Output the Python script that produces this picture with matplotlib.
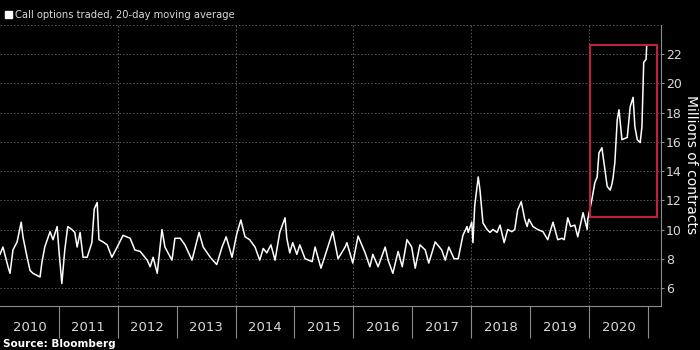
import matplotlib.pyplot as plt
from matplotlib.patches import Rectangle

# fractional year of each traced point, and the 20-day average (millions)
dates = [2010.00, 2010.05, 2010.14, 2010.17, 2010.22, 2010.29, 2010.36, 2010.39, 2010.46, 2010.51,
         2010.56, 2010.68, 2010.71, 2010.76, 2010.85, 2010.90, 2010.97, 2011.00, 2011.05, 2011.10,
         2011.15, 2011.22, 2011.27, 2011.31, 2011.36, 2011.41, 2011.48, 2011.56, 2011.60, 2011.65,
         2011.68, 2011.75, 2011.82, 2011.90, 2011.99, 2012.09, 2012.21, 2012.29, 2012.38, 2012.50,
         2012.55, 2012.60, 2012.67, 2012.75, 2012.80, 2012.92, 2012.97, 2013.06, 2013.14, 2013.26,
         2013.38, 2013.45, 2013.57, 2013.68, 2013.77, 2013.84, 2013.94, 2014.02, 2014.09, 2014.16,
         2014.24, 2014.33, 2014.41, 2014.47, 2014.53, 2014.60, 2014.67, 2014.75, 2014.84, 2014.87,
         2014.92, 2014.97, 2015.04, 2015.09, 2015.18, 2015.30, 2015.35, 2015.45, 2015.55, 2015.65,
         2015.74, 2015.86, 2015.89, 2015.99, 2016.08, 2016.20, 2016.28, 2016.33, 2016.42, 2016.54,
         2016.59, 2016.67, 2016.76, 2016.83, 2016.91, 2016.99, 2017.05, 2017.13, 2017.22, 2017.28,
         2017.39, 2017.50, 2017.56, 2017.62, 2017.71, 2017.78, 2017.86, 2017.93, 2017.95, 2018.01,
         2018.03, 2018.06, 2018.12, 2018.15, 2018.20, 2018.27, 2018.32, 2018.37, 2018.44, 2018.49,
         2018.56, 2018.62, 2018.69, 2018.74, 2018.79, 2018.85, 2018.91, 2018.95, 2018.98, 2019.05,
         2019.13, 2019.22, 2019.30, 2019.39, 2019.47, 2019.54, 2019.58, 2019.64, 2019.69, 2019.76,
         2019.81, 2019.90, 2019.97, 2019.98, 2020.05, 2020.10, 2020.14, 2020.17, 2020.22, 2020.24,
         2020.31, 2020.36, 2020.39, 2020.41, 2020.44, 2020.48, 2020.51, 2020.53, 2020.56, 2020.65,
         2020.66, 2020.70, 2020.75, 2020.78, 2020.82, 2020.87, 2020.90, 2020.93, 2020.97, 2020.98]
calls = [8.3, 8.8, 7.4, 7.0, 8.6, 9.15, 10.5, 9.5, 8.1, 7.2,
         7.0, 6.75, 7.7, 8.8, 9.85, 9.3, 10.2, 8.6, 6.3, 8.6,
         10.2, 10.0, 9.8, 8.8, 9.8, 8.1, 8.1, 9.1, 11.4, 11.85,
         9.3, 9.15, 8.95, 8.1, 8.8, 9.6, 9.4, 8.6, 8.5, 7.9,
         7.45, 8.1, 7.0, 10.0, 8.8, 7.9, 9.4, 9.4, 8.95, 7.9,
         9.8, 8.8, 8.1, 7.6, 8.8, 9.5, 8.1, 9.7, 10.65, 9.5,
         9.3, 8.8, 7.9, 8.7, 8.4, 8.95, 7.9, 9.8, 10.8, 9.4,
         8.4, 9.1, 8.3, 8.95, 8.0, 7.8, 8.8, 7.35, 8.6, 9.85,
         8.0, 8.8, 9.1, 7.7, 9.55, 8.4, 7.45, 8.3, 7.45, 8.8,
         7.9, 7.0, 8.5, 7.45, 9.3, 8.8, 7.35, 8.95, 8.6, 7.7,
         9.15, 8.6, 7.9, 8.8, 8.0, 8.0, 9.6, 10.2, 9.8, 10.5,
         9.1, 11.6, 13.6, 12.7, 10.45, 10.0, 9.8, 10.0, 9.8, 10.3,
         9.1, 10.0, 9.85, 10.0, 11.35, 11.9, 10.7, 10.2, 10.7, 10.2,
         10.0, 9.85, 9.3, 10.5, 9.3, 9.4, 9.3, 10.8, 10.2, 10.3,
         9.5, 11.15, 10.0, 10.7, 12.05, 13.2, 13.6, 15.25, 15.6, 15.0,
         12.95, 12.7, 13.1, 13.55, 14.6, 17.5, 18.2, 17.4, 16.15, 16.3,
         16.7, 18.4, 19.05, 17.05, 16.15, 15.95, 17.05, 21.45, 21.65, 22.55]

years = list(range(2010, 2021))
ytick_vals = [6, 8, 10, 12, 14, 16, 18, 20, 22]
box_x = (2020.02, 2021.15)
box_y = (10.87, 22.64)

grid_col = '#5a5a5a'
axis_col = '#8c8c8c'
text_col = '#d9d9d9'

fig = plt.figure(figsize=(7, 3.5), dpi=100, facecolor='black')
ax = fig.add_axes([0.0, 0.126, 0.944, 0.8026])
ax.set_facecolor('black')

ax.plot(dates, calls, color='white', lw=1.1, solid_joinstyle='round')

ax.add_patch(Rectangle((box_x[0], box_y[0]), box_x[1] - box_x[0], box_y[1] - box_y[0],
                       fill=False, edgecolor='#c8203a', lw=1.4, zorder=3))

ax.set_xlim(2010.0, 2021.22)
ax.set_ylim(4.77, 24)

# y axis on the right
ax.yaxis.tick_right()
ax.set_yticks(ytick_vals)
ax.set_yticklabels([str(v) for v in ytick_vals])
ax.tick_params(axis='y', colors=axis_col, labelcolor=text_col, labelsize=9,
               length=2.2, width=0.8, direction='out', pad=1.5)
fig.text(691 / 700, 1 - 165 / 350, 'Millions of contracts', color='white', fontsize=10,
         rotation=270, ha='center', va='center')
for v in ytick_vals + [24]:
    ax.axhline(v, color=grid_col, lw=0.7, ls=(0, (1.5, 2)), zorder=0)
for y in years[2::2]:
    ax.axvline(y, color=grid_col, lw=0.7, ls=(0, (1.5, 2)), zorder=0)

# year bands under the plot
ax.set_xticks([y + 0.5 for y in years])
ax.set_xticklabels([str(y) for y in years])
ax.set_xticks([y + 1 for y in years], minor=True)
ax.tick_params(axis='x', which='major', length=0, labelcolor=text_col, labelsize=9.5, pad=11)
ax.tick_params(axis='x', which='minor', length=23, width=0.8, color=axis_col, direction='out')

for s in ['top', 'left']:
    ax.spines[s].set_visible(False)
ax.spines['right'].set_color(axis_col)
ax.spines['bottom'].set_color(axis_col)
ax.spines['right'].set_linewidth(0.8)
ax.spines['bottom'].set_linewidth(0.8)

fig.patches.append(Rectangle((5 / 700, 1 - 18 / 350), 7 / 700, 7 / 350,
                             transform=fig.transFigure, color='white'))
fig.text(15 / 700, 1 - 15 / 350, 'Call options traded, 20-day moving average',
         color=text_col, fontsize=7.2, va='center', ha='left')
fig.text(3 / 700, 1 - 344 / 350, 'Source: Bloomberg', color='white', fontsize=7.5,
         fontweight='bold', va='center', ha='left')

fig.savefig('out.png', dpi=100, facecolor='black')
